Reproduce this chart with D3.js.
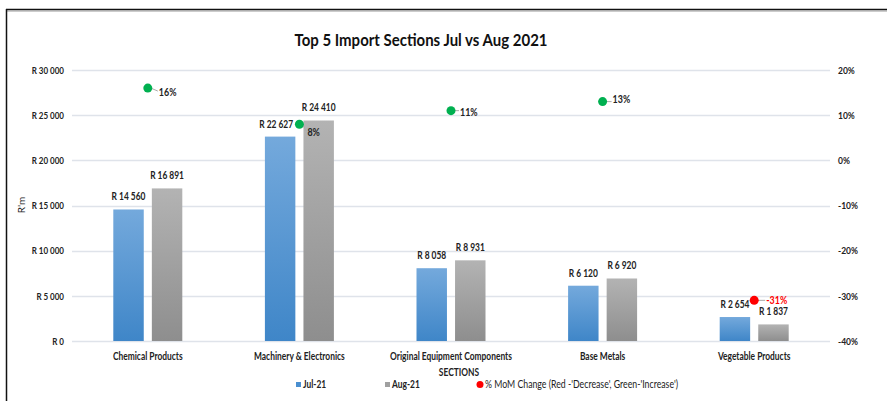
<!DOCTYPE html>
<html>
<head>
<meta charset="utf-8">
<script src="https://cdn.jsdelivr.net/npm/d3@7"></script>
<style>
  html, body { margin: 0; padding: 0; background: #fff; }
  svg { display: block; }
  text { font-family: Lato, "Open Sans", "Liberation Sans", sans-serif; }
</style>
</head>
<body>
<svg id="chart" width="887" height="401"></svg>
<script>
const categories = ["Chemical Products", "Machinery & Electronics", "Original Equipment Components", "Base Metals", "Vegetable Products"];
const seriesNames = ["Jul-21", "Aug-21"];
const jul21 = [14560, 22627, 8058, 6120, 2654];
const aug21 = [16891, 24410, 8931, 6920, 1837];
const momChange = [0.16, 0.08, 0.11, 0.13, -0.31];
const leftTicks = [0, 5000, 10000, 15000, 20000, 25000, 30000];
const rightTicks = [-0.4, -0.3, -0.2, -0.1, 0, 0.1, 0.2];
const title = "Top 5 Import Sections Jul vs Aug 2021";
const legendMoM = "% MoM Change (Red -'Decrease', Green-'Increase')";

const svg = d3.select("#chart");
const W = 887, H = 401;
const plot = { left: 72, right: 830, top: 70, bottom: 341 };

// condense helper: squeeze glyphs horizontally (Calibri-like narrow look)
function condense(sel, k) {
  sel.each(function () {
    const w = this.getComputedTextLength();
    d3.select(this).attr("textLength", w * k).attr("lengthAdjust", "spacingAndGlyphs");
  });
}

// frame
svg.append("line").attr("x1", 6).attr("x2", 887).attr("y1", 9.5).attr("y2", 9.5).attr("stroke", "#111").attr("stroke-width", 1.5);
svg.append("line").attr("x1", 6).attr("x2", 887).attr("y1", 11).attr("y2", 11).attr("stroke", "#999").attr("stroke-width", 1);
svg.append("line").attr("x1", 6.5).attr("x2", 6.5).attr("y1", 9).attr("y2", H).attr("stroke", "#111").attr("stroke-width", 1.5);

// gradients
const defs = svg.append("defs");
const gBlue = defs.append("linearGradient").attr("id", "gBlue").attr("x1", 0).attr("y1", 0).attr("x2", 0).attr("y2", 1);
gBlue.append("stop").attr("offset", "0%").attr("stop-color", "#74a9dc");
gBlue.append("stop").attr("offset", "100%").attr("stop-color", "#3f86c8");
const gGray = defs.append("linearGradient").attr("id", "gGray").attr("x1", 0).attr("y1", 0).attr("x2", 0).attr("y2", 1);
gGray.append("stop").attr("offset", "0%").attr("stop-color", "#b3b3b3");
gGray.append("stop").attr("offset", "100%").attr("stop-color", "#8e8e8e");

const x0 = d3.scaleBand().domain(categories).range([plot.left, plot.right]).paddingInner(0).paddingOuter(0);
const groupW = 69;
const x1 = d3.scaleBand().domain(seriesNames).range([0, groupW]).paddingInner(0.21).paddingOuter(0);
const yL = d3.scaleLinear().domain([0, 30000]).range([plot.bottom, plot.top]);
const yR = d3.scaleLinear().domain([-0.4, 0.2]).range([plot.bottom, plot.top]);

// grid
svg.append("g").selectAll("line").data(leftTicks).join("line")
  .attr("x1", plot.left).attr("x2", plot.right)
  .attr("y1", d => Math.round(yL(d)) + 0.5).attr("y2", d => Math.round(yL(d)) + 0.5)
  .attr("stroke", "#dfe3ea").attr("stroke-width", 1.5);

// left axis
const fmtR = d => "R " + d3.format(",")(d).replace(/,/g, " ");
const fmtP = d => d3.format(".0%")(d).replace("\u2212", "-");
const axL = d3.axisLeft(yL).tickValues(leftTicks).tickFormat(fmtR).tickSize(0).tickPadding(8);
const gL = svg.append("g").attr("transform", `translate(${plot.left},0)`).call(axL);
gL.select(".domain").remove();
gL.selectAll("text").attr("font-size", 10).attr("font-weight", "bold").attr("fill", "#222")
  .style("font-family", "Lato, sans-serif");
condense(gL.selectAll("text"), 0.8);

// right axis
const axR = d3.axisRight(yR).tickValues(rightTicks).tickFormat(fmtP).tickSize(0).tickPadding(8);
const gR = svg.append("g").attr("transform", `translate(${plot.right},0)`).call(axR);
gR.select(".domain").remove();
gR.selectAll("text").attr("font-size", 10).attr("font-weight", "bold").attr("fill", "#222")
  .style("font-family", "Lato, sans-serif");
condense(gR.selectAll("text"), 0.85);

// bars
const rows = categories.map((c, i) => ({ cat: c, i, vals: [{ s: "Jul-21", v: jul21[i], i }, { s: "Aug-21", v: aug21[i], i }] }));
const grp = svg.append("g").selectAll("g").data(rows).join("g")
  .attr("transform", d => `translate(${x0(d.cat) + (x0.bandwidth() - groupW) / 2},0)`);
grp.selectAll("rect").data(d => d.vals).join("rect")
  .attr("x", d => x1(d.s)).attr("width", x1.bandwidth())
  .attr("y", d => yL(d.v)).attr("height", d => yL(0) - yL(d.v))
  .attr("fill", d => d.s === "Jul-21" ? "url(#gBlue)" : "url(#gGray)");
const valLabels = grp.selectAll("text.val").data(d => d.vals).join("text").attr("class", "val")
  .attr("x", d => x1(d.s) + x1.bandwidth() / 2 - (d.i === 1 && d.s === "Jul-21" ? 4 : 0))
  .attr("y", d => yL(d.v) - 9)
  .attr("text-anchor", "middle").attr("font-size", 10.5).attr("font-weight", "bold").attr("fill", "#222")
  .text(d => fmtR(d.v));
condense(valLabels, 0.8);

// MoM points (label offsets follow the reference's manual placement)
const labelDx = [11, 8, 9, 10, 12];
const labelDy = [8, 12, 5, 1, 4];
const pts = categories.map((c, i) => ({ cat: c, v: momChange[i], i }));
const pg = svg.append("g").selectAll("g").data(pts).join("g")
  .attr("transform", d => `translate(${x0(d.cat) + x0.bandwidth() / 2},${yR(d.v)})`);
pg.append("line").attr("x1", 3).attr("x2", d => labelDx[d.i] - 1).attr("y1", 0).attr("y2", d => Math.max(0, labelDy[d.i] - 5))
  .attr("stroke", "#aaa").attr("stroke-width", 1);
pg.append("circle").attr("r", 4.5).attr("fill", d => d.v < 0 ? "#ff0000" : "#00b050");
const pLabels = pg.append("text").attr("x", d => labelDx[d.i]).attr("y", d => labelDy[d.i])
  .attr("font-size", 10.5).attr("font-weight", "bold")
  .attr("fill", d => d.v < 0 ? "#ff0000" : "#222")
  .text(d => fmtP(d.v));
condense(pLabels, 0.85);

// category labels
const catLabels = svg.append("g").selectAll("text").data(categories).join("text")
  .attr("x", d => x0(d) + x0.bandwidth() / 2).attr("y", 360)
  .attr("text-anchor", "middle").attr("font-size", 10.5).attr("font-weight", "bold").attr("fill", "#222")
  .text(d => d);
condense(catLabels, 0.8);

// title
const t = svg.append("text").attr("x", 421).attr("y", 46).attr("text-anchor", "middle")
  .attr("font-size", 17).attr("font-weight", "bold").attr("fill", "#111").text(title);
t.attr("textLength", 253).attr("lengthAdjust", "spacingAndGlyphs");

// axis titles
svg.append("text").attr("transform", "translate(25,205) rotate(-90)").attr("text-anchor", "middle")
  .attr("font-size", 10).attr("fill", "#222").text("R'm");
const sec = svg.append("text").attr("x", 459).attr("y", 376).attr("text-anchor", "middle")
  .attr("font-size", 10.5).attr("font-weight", "bold").attr("fill", "#222").text("SECTIONS");
condense(sec, 0.8);

// legend
const lg = svg.append("g");
lg.append("rect").attr("x", 296).attr("y", 382).attr("width", 5).attr("height", 5).attr("fill", "#4a8fd0");
const l1 = lg.append("text").attr("x", 303).attr("y", 388).attr("font-size", 10.5).attr("font-weight", "bold").attr("fill", "#222").text(seriesNames[0]);
lg.append("rect").attr("x", 385).attr("y", 382).attr("width", 5).attr("height", 5).attr("fill", "#a0a0a0");
const l2 = lg.append("text").attr("x", 392).attr("y", 388).attr("font-size", 10.5).attr("font-weight", "bold").attr("fill", "#222").text(seriesNames[1]);
lg.append("circle").attr("cx", 480).attr("cy", 384.5).attr("r", 3.5).attr("fill", "#ff0000");
const l3 = lg.append("text").attr("x", 485).attr("y", 388).attr("font-size", 10.5).attr("fill", "#222").text(legendMoM);
condense(l1, 0.8); condense(l2, 0.8);
l3.attr("textLength", 193).attr("lengthAdjust", "spacingAndGlyphs");
</script>
</body>
</html>
